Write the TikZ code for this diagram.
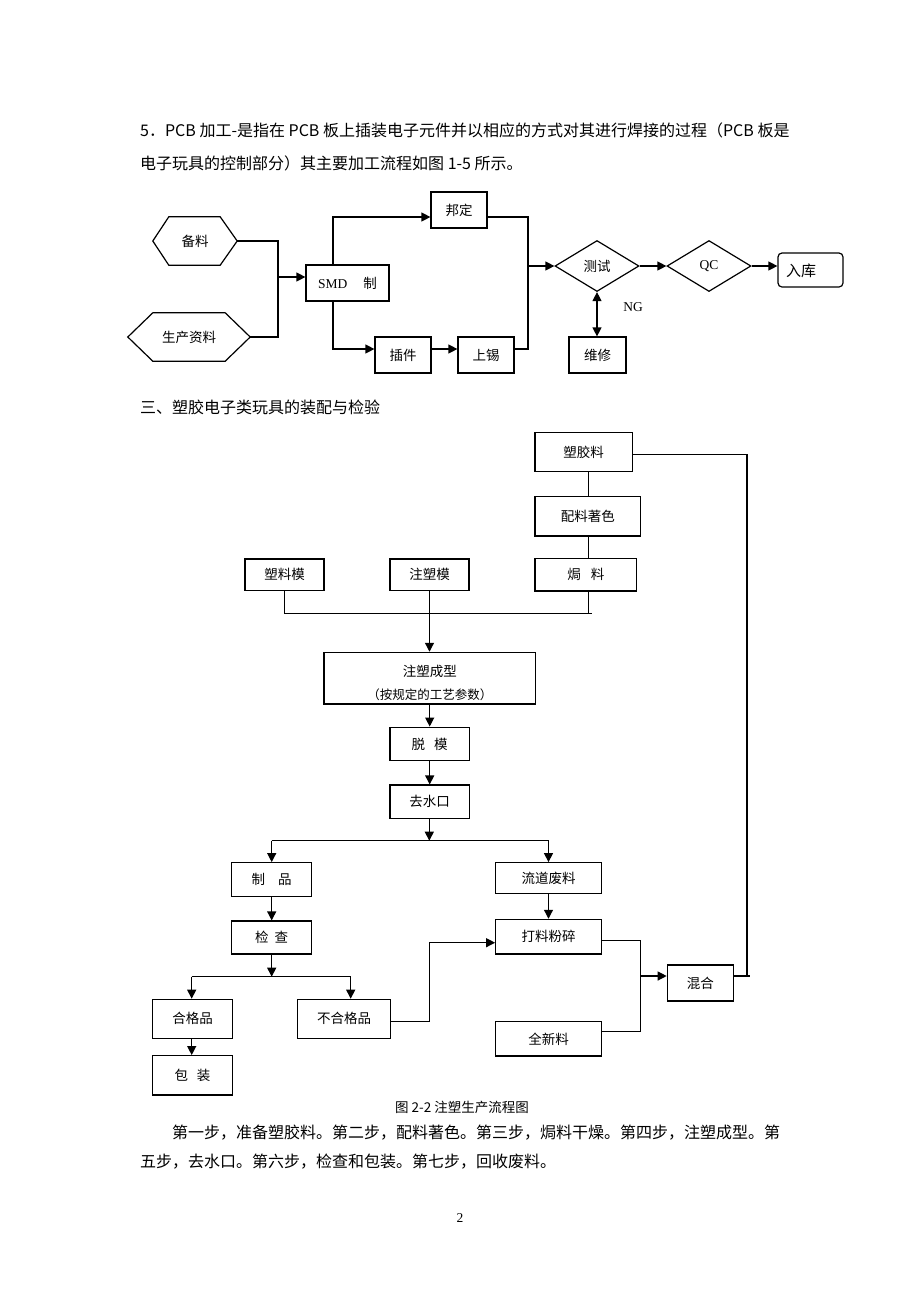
\documentclass[tikz,border=0pt]{standalone}
\usepackage{fontspec}
\setmainfont{Liberation Serif}
\newfontfamily\cjk{Noto Sans CJK SC}
\newfontfamily\latf{Liberation Serif}
\usetikzlibrary{arrows.meta,shapes.geometric}
\newcommand\bodyfnt{\cjk\fontsize{16}{20}\selectfont}
\newcommand\boxfnt{\cjk\fontsize{13.5}{16}\selectfont}
\newcommand\subfnt{\cjk\fontsize{12.5}{15}\selectfont}
\newcommand\capfnt{\cjk\fontsize{13.5}{16}\selectfont}
\tikzset{
  bx/.style={draw, line width=1.2pt, inner sep=0pt, font=\boxfnt},
  dm/.style={draw, diamond, line width=1.2pt, inner sep=0pt, font=\boxfnt},
  ln/.style={line width=1.2pt},
  ar/.style={line width=1.2pt, -{Triangle[length=9pt,width=9pt]}},
  dar/.style={line width=1.2pt, {Triangle[length=9pt,width=9pt]}-{Triangle[length=9pt,width=9pt]}},
  txt/.style={inner sep=0pt},
}
\begin{document}
\begin{tikzpicture}[x=1pt,y=-1pt]
\useasboundingbox[fill=white] (0,0) rectangle (920,1302);

% ---------- text ----------
\node[txt, anchor=west, font=\bodyfnt] (p1) at (140,130) {5．PCB 加工-是指在 PCB 板上插装电子元件并以相应的方式对其进行焊接的过程（PCB 板是};
\node[txt, anchor=west, font=\bodyfnt] (p2) at (140,163) {电子玩具的控制部分）其主要加工流程如图 1-5 所示。};
\node[txt, anchor=west, font=\bodyfnt] (h3) at (140,407) {三、塑胶电子类玩具的装配与检验};
\node[txt, font=\capfnt] (cap) at (462,1107) {图 2-2 注塑生产流程图};
\node[txt, anchor=west, font=\bodyfnt] (q1) at (172,1133) {第一步，准备塑胶料。第二步，配料著色。第三步，焗料干燥。第四步，注塑成型。第};
\node[txt, anchor=west, font=\bodyfnt] (q2) at (140,1162) {五步，去水口。第六步，检查和包装。第七步，回收废料。};
\node[txt, font=\latf\fontsize{13.5}{16}\selectfont] (pg) at (460,1218) {2};

% ---------- diagram 1 ----------
\node[txt, minimum width=84pt, minimum height=48pt, font=\boxfnt] (bl) at (195,241) {备料};
\draw[ln] (bl.west) -- ([xshift=16pt]bl.north west) -- ([xshift=-17pt]bl.north east) -- (bl.east)
  -- ([xshift=-17pt]bl.south east) -- ([xshift=16pt]bl.south west) -- cycle;
\node[txt, minimum width=122pt, minimum height=48pt, font=\boxfnt] (sczl) at (189,337) {生产资料};
\draw[ln] (sczl.west) -- ([xshift=25pt]sczl.north west) -- ([xshift=-25pt]sczl.north east) -- (sczl.east)
  -- ([xshift=-25pt]sczl.south east) -- ([xshift=25pt]sczl.south west) -- cycle;

\node[bx, minimum width=83pt, minimum height=36pt] (smd) at (347.5,283) {{\latf SMD}\hspace{16pt}制};
\node[bx, minimum width=56pt, minimum height=36pt] (bd) at (459,210) {邦定};
\node[bx, minimum width=56pt, minimum height=36pt] (cj) at (403,355) {插件};
\node[bx, minimum width=56pt, minimum height=36pt] (sx) at (486,355) {上锡};
\node[dm, minimum width=84pt, minimum height=51pt] (cs) at (597,266) {测试};
\node[dm, minimum width=84pt, minimum height=51pt, font=\latf\fontsize{13.5}{16}\selectfont] (qc) at (709,266) {QC};
\node[draw, line width=1.2pt, rounded corners=4pt, minimum width=65pt, minimum height=34pt, inner sep=0pt] (rk) at (810.5,270) {};
\node[txt, font=\cjk\fontsize{15}{18}\selectfont] (rkt) at (801,271) {入库};
\node[bx, minimum width=57pt, minimum height=36pt] (wx) at (597.5,355) {维修};
\node[txt, font=\latf\fontsize{13.5}{16}\selectfont] (ng) at (633,307) {NG};

\coordinate (ja) at (278,277);
\coordinate (jb) at (333,283);
\coordinate (jc) at (528,266);
\draw[ln] (bl.east) -| (ja);
\draw[ln] (sczl.east) -| (ja);
\draw[ar] (ja) -- (smd.west |- ja);
\draw[ar] (smd.north -| jb) |- (bd.west |- 0,217);
\draw[ar] (smd.south -| jb) |- (cj.west |- 0,349);
\draw[ar] (cj.east |- 0,349) -- (sx.west |- 0,349);
\draw[ln] (bd.east |- 0,217) -| (jc);
\draw[ln] (sx.east |- 0,349) -| (jc);
\draw[ar] (jc) -- (cs.west);
\draw[ar] (cs.east) -- (qc.west);
\draw[ar] (qc.east) -- (rk.west |- qc.east);
\draw[dar] (cs.south) -- (wx.north -| cs.south);

% ---------- diagram 2 ----------
\node[bx, minimum width=97.3pt, minimum height=39.4pt] (sjl) at (583.7,452) {塑胶料};
\node[bx, minimum width=105.7pt, minimum height=39.3pt] (plzs) at (587.8,516.3) {配料著色};
\node[bx, minimum width=101.7pt, minimum height=32.7pt] (jl) at (585.8,574.7) {焗\hspace{10pt}料};
\node[bx, minimum width=79pt, minimum height=31.7pt] (slm) at (284.5,574.8) {塑料模};
\node[bx, minimum width=79pt, minimum height=31.7pt] (zsm) at (429.5,574.8) {注塑模};
\node[bx, minimum width=211.7pt, minimum height=51.7pt] (zscx) at (429.8,678.2) {};
\node[txt, font=\boxfnt] (zscx1) at (429.8,671.5) {注塑成型};
\node[txt, font=\subfnt] (zscx2) at (429.8,695) {（按规定的工艺参数）};
\node[bx, minimum width=79.3pt, minimum height=33.7pt] (tm) at (429.7,744) {脱\hspace{9pt}模};
\node[bx, minimum width=79.3pt, minimum height=33.3pt] (qsk) at (429.7,801.7) {去水口};
\node[bx, minimum width=80pt, minimum height=34pt] (zp) at (271.7,879.7) {制\hspace{13pt}品};
\node[bx, minimum width=80pt, minimum height=33pt] (jcc) at (271.7,937.5) {检\hspace{6pt}查};
\node[bx, minimum width=79.6pt, minimum height=39pt] (hgp) at (192.5,1018.8) {合格品};
\node[bx, minimum width=92.6pt, minimum height=39pt] (bhgp) at (344,1018.8) {不合格品};
\node[bx, minimum width=79.6pt, minimum height=39.3pt] (bz) at (192.5,1075.3) {包\hspace{9pt}装};
\node[bx, minimum width=105.6pt, minimum height=30.6pt] (ldfl) at (548.5,878) {流道废料};
\node[bx, minimum width=105.6pt, minimum height=34.7pt] (dlfs) at (548.5,936.7) {打料粉碎};
\node[bx, minimum width=105.6pt, minimum height=34.3pt] (qxl) at (548.5,1038.8) {全新料};
\node[bx, minimum width=66pt, minimum height=36pt] (hh) at (700.3,983) {混合};

\coordinate (vx) at (588.3,0);
\coordinate (bus1) at (588.3,613.3);
\coordinate (rt) at (747,454.3);
\coordinate (rb) at (747,976);
\draw[ln] (sjl.south -| vx) -- (plzs.north -| vx);
\draw[ln] (plzs.south -| vx) -- (jl.north -| vx);
\draw[ln] (jl.south -| vx) -- (bus1);
\draw[ln] (slm.south) |- ([xshift=3.4pt]bus1);
\draw[ar] (zsm.south) -- (zscx.north -| zsm.south);
\draw[ln] (sjl.east |- rt) -- (rt) -- (rb);
\draw[ln] (hh.east |- rb) -- ([xshift=3pt]rb);

\draw[ar] (zscx.south -| tm.north) -- (tm.north);
\draw[ar] (tm.south) -- (qsk.north);
\coordinate (j1) at (429.3,840.7);
\draw[ar] (qsk.south -| j1) -- (j1);
\draw[ln] (zp.north |- j1) -- (ldfl.north |- j1);
\draw[ar] (zp.north |- j1) -- (zp.north);
\draw[ar] (ldfl.north |- j1) -- (ldfl.north);
\draw[ar] (zp.south) -- (jcc.north);
\coordinate (j2) at (271.7,976.7);
\draw[ar] (jcc.south) -- (j2);
\coordinate (j2l) at (191.7,976.7);
\coordinate (j2r) at (350.7,976.7);
\draw[ln] (j2l) -- (j2r);
\draw[ar] (j2l) -- (hgp.north -| j2l);
\draw[ar] (j2r) -- (bhgp.north -| j2r);
\draw[ar] (hgp.south -| j2l) -- (bz.north -| j2l);
\draw[ar] (ldfl.south) -- (dlfs.north);
\coordinate (j3) at (429.3,942.7);
\draw[ln] (bhgp.east |- 0,1021.7) -| (j3);
\draw[ar] (j3) -- (dlfs.west |- j3);
\coordinate (j4) at (640.7,976);
\draw[ln] (dlfs.east |- 0,940.7) -| (j4);
\draw[ln] (qxl.east |- 0,1031.7) -| (j4);
\draw[ar] (j4) -- (hh.west |- j4);
\end{tikzpicture}
\end{document}
